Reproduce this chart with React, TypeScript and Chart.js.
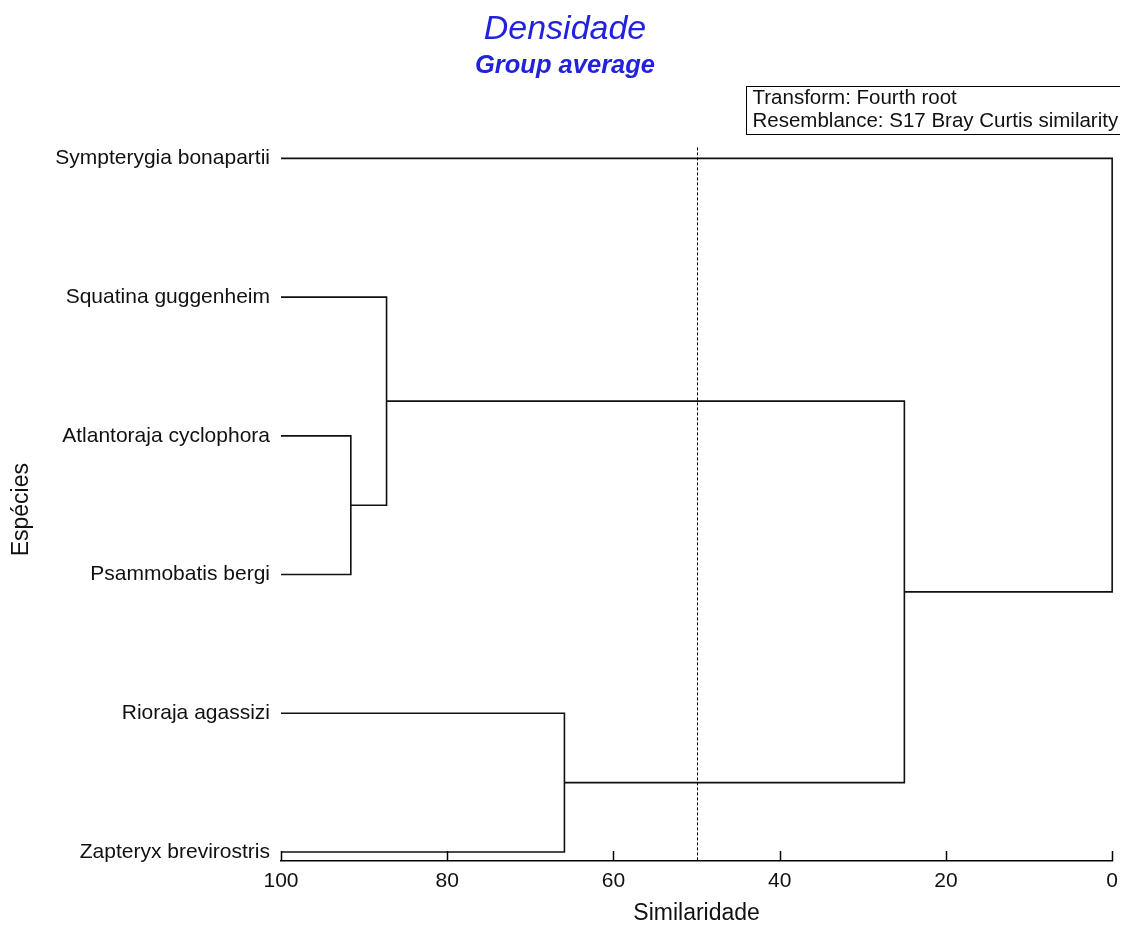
import React, { useEffect, useRef } from 'react';
import { Chart, registerables } from 'chart.js';

Chart.register(...registerables);

// Leaves, top to bottom
const species = [
  'Sympterygia bonapartii',
  'Squatina guggenheim',
  'Atlantoraja cyclophora',
  'Psammobatis bergi',
  'Rioraja agassizi',
  'Zapteryx brevirostris',
];
// Merge table: node ids 0..5 are leaves, 6.. are merged clusters in order
const mergeA = [2, 1, 4, 7, 0];
const mergeB = [3, 6, 5, 8, 9];
const mergeSimilarity = [91.6, 87.3, 65.9, 25.0, 0.0];
const xTickValues = [100, 80, 60, 40, 20, 0];
const cutSimilarity = 50;
const titleText = 'Densidade';
const subtitleText = 'Group average';
const xTitle = 'Similaridade';
const yTitle = 'Espécies';
const infoLines = ['Transform: Fourth root', 'Resemblance: S17 Bray Curtis similarity'];

const FONT = "'Liberation Sans', Arial, sans-serif";
const BLUE = '#2222dd';

function buildSegments() {
  const n = species.length;
  const nodeX: number[] = [];
  const nodeY: number[] = [];
  for (let i = 0; i < n; i++) {
    nodeX.push(100);
    nodeY.push(n - 1 - i);
  }
  const datasets: any[] = [];
  for (let m = 0; m < mergeA.length; m++) {
    const a = mergeA[m];
    const b = mergeB[m];
    const h = mergeSimilarity[m];
    datasets.push({
      data: [
        { x: nodeX[a], y: nodeY[a] },
        { x: h, y: nodeY[a] },
        { x: h, y: nodeY[b] },
        { x: nodeX[b], y: nodeY[b] },
      ],
      showLine: true,
      borderColor: '#111',
      borderWidth: 1.6,
      pointRadius: 0,
      tension: 0,
      clip: false,
    });
    nodeX.push(h);
    nodeY.push((nodeY[a] + nodeY[b]) / 2);
  }
  return datasets;
}

const decorPlugin = {
  id: 'decor',
  afterDraw(chart: any) {
    const ctx = chart.ctx;
    const xs = chart.scales.x;
    const area = chart.chartArea;
    ctx.save();
    // tick marks pointing up
    ctx.strokeStyle = '#000';
    ctx.lineWidth = 1.5;
    xTickValues.forEach((v) => {
      const px = Math.round(xs.getPixelForValue(v)) + 0.5;
      ctx.beginPath();
      ctx.moveTo(px, area.bottom);
      ctx.lineTo(px, area.bottom - 10);
      ctx.stroke();
    });
    // dashed cut line
    const cx = Math.round(xs.getPixelForValue(cutSimilarity)) + 0.5;
    ctx.lineWidth = 1;
    ctx.setLineDash([3, 2]);
    ctx.beginPath();
    ctx.moveTo(cx, area.top - 11);
    ctx.lineTo(cx, area.bottom);
    ctx.stroke();
    ctx.setLineDash([]);
    // info box
    const bx = 738.5, by = 78.5, bw = 375, bh = 48;
    ctx.fillStyle = '#fff';
    ctx.fillRect(bx, by, bw, bh);
    ctx.strokeStyle = '#000';
    ctx.lineWidth = 1;
    ctx.strokeRect(bx, by, bw, bh);
    ctx.fillStyle = '#111';
    ctx.font = `20.5px ${FONT}`;
    ctx.textBaseline = 'middle';
    ctx.textAlign = 'left';
    infoLines.forEach((t, i) => {
      ctx.fillText(t, bx + 6, by + 12 + i * 23);
    });
    ctx.restore();
  },
};

export default function App() {
  const ref = useRef<HTMLCanvasElement | null>(null);
  useEffect(() => {
    if (!ref.current) return;
    const n = species.length;
    const chart = new Chart(ref.current, {
      type: 'scatter',
      data: { datasets: buildSegments() },
      options: {
        animation: false,
        responsive: false,
        maintainAspectRatio: false,
        layout: { padding: { left: 6, right: 12, top: 0, bottom: 0 } },
        plugins: {
          legend: { display: false },
          tooltip: { enabled: false },
          title: {
            display: true,
            text: titleText,
            color: BLUE,
            font: { family: FONT, size: 34, style: 'italic', weight: 'normal', lineHeight: 1.2 },
            padding: { top: 1, bottom: 1 },
          },
          subtitle: {
            display: true,
            text: subtitleText,
            color: BLUE,
            font: { family: FONT, size: 25.5, style: 'italic', weight: 'bold', lineHeight: 1.2 },
            padding: { top: 0, bottom: 77 },
          },
        },
        scales: {
          x: {
            type: 'linear',
            reverse: true,
            min: 0,
            max: 100,
            afterBuildTicks: (s: any) => {
              s.ticks = xTickValues.map((v) => ({ value: v }));
            },
            ticks: {
              color: '#111',
              font: { family: FONT, size: 21, lineHeight: 1.0 },
              padding: 10,
              autoSkip: false,
              maxRotation: 0,
            },
            grid: { display: true, drawOnChartArea: false, drawTicks: false },
            border: { display: true, color: '#000', width: 1.5 },
            title: {
              display: true,
              text: xTitle,
              color: '#111',
              font: { family: FONT, size: 23, lineHeight: 1.0 },
              padding: { top: 0, bottom: 0 },
            },
          },
          y: {
            type: 'linear',
            min: -0.065,
            max: n - 1,
            afterBuildTicks: (s: any) => {
              s.ticks = species.map((_, i) => ({ value: i }));
            },
            afterFit: (s: any) => {
              s.width = 267;
            },
            ticks: {
              color: '#111',
              font: { family: FONT, size: 21 },
              padding: 3,
              autoSkip: false,
              callback: (v: any) => species[n - 1 - Number(v)] ?? '',
            },
            grid: { display: false },
            border: { display: false },
            title: {
              display: true,
              text: yTitle,
              color: '#111',
              font: { family: FONT, size: 23, lineHeight: 1.0 },
              padding: { top: -4, bottom: 0 },
            },
          },
        },
      },
      plugins: [decorPlugin],
    } as any);
    return () => chart.destroy();
  }, []);
  return (
    <div style={{ width: 1120, height: 917 }}>
      <canvas ref={ref} width={1120} height={917} style={{ display: 'block' }} />
    </div>
  );
}
